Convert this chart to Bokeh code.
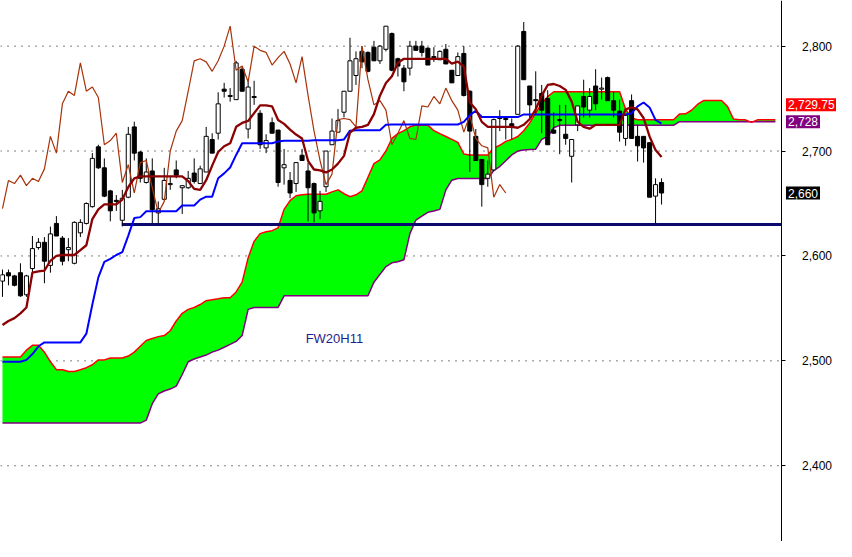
from bokeh.plotting import figure
from bokeh.models import Range1d, NumeralTickFormatter, FixedTicker, Label
from bokeh.embed import file_html
from bokeh.resources import INLINE

# ---- candle data (index 0..110) ----
opens = [2576, 2584, 2581, 2584, 2563, 2588, 2608, 2613, 2591, 2631,
         2617, 2606, 2593, 2622, 2631, 2647, 2704, 2684, 2662, 2653,
         2634, 2656, 2723, 2699, 2670, 2681, 2641, 2654, 2668, 2682,
         2665, 2665, 2679, 2669, 2680, 2711, 2717, 2759, 2752, 2749,
         2778, 2721, 2752, 2736, 2703, 2727, 2720, 2684, 2672, 2669,
         2696, 2681, 2669, 2643, 2666, 2706, 2718, 2737, 2757, 2772,
         2795, 2794, 2799, 2786, 2797, 2812, 2788, 2779, 2779, 2800,
         2800, 2798, 2790, 2787, 2797, 2777, 2772, 2793, 2757, 2714,
         2692, 2674, 2682, 2732, 2731, 2726, 2735, 2814, 2762, 2749,
         2755, 2750, 2720, 2730, 2716, 2695, 2725, 2752, 2739, 2762,
         2759, 2770, 2748, 2738, 2712, 2748, 2714, 2714, 2708, 2657,
         2670]
highs = [2587, 2587, 2582, 2593, 2582, 2619, 2617, 2618, 2628, 2638,
         2619, 2617, 2633, 2635, 2651, 2698, 2706, 2693, 2663, 2658,
         2663, 2723, 2728, 2700, 2693, 2693, 2652, 2684, 2676, 2691,
         2667, 2681, 2693, 2686, 2723, 2717, 2756, 2765, 2760, 2786,
         2781, 2768, 2767, 2739, 2716, 2732, 2720, 2702, 2680, 2689,
         2702, 2689, 2670, 2662, 2700, 2731, 2740, 2757, 2808, 2795,
         2800, 2795, 2805, 2801, 2819, 2813, 2789, 2782, 2805, 2805,
         2805, 2799, 2799, 2796, 2802, 2777, 2794, 2800, 2758, 2721,
         2692, 2691, 2731, 2739, 2733, 2731, 2801, 2823, 2762, 2776,
         2763, 2758, 2737, 2744, 2744, 2711, 2743, 2768, 2760, 2778,
         2770, 2771, 2756, 2749, 2734, 2754, 2725, 2714, 2708, 2674,
         2674]
lows = [2561, 2572, 2571, 2561, 2561, 2581, 2606, 2574, 2584, 2619,
        2591, 2595, 2592, 2618, 2630, 2646, 2683, 2656, 2633, 2643,
        2629, 2655, 2691, 2670, 2669, 2631, 2631, 2653, 2663, 2674,
        2640, 2664, 2669, 2669, 2680, 2698, 2711, 2751, 2747, 2749,
        2757, 2712, 2744, 2702, 2698, 2717, 2666, 2668, 2655, 2661,
        2691, 2633, 2632, 2635, 2661, 2706, 2718, 2732, 2757, 2763,
        2779, 2775, 2786, 2783, 2795, 2776, 2771, 2757, 2772, 2796,
        2790, 2782, 2785, 2787, 2783, 2765, 2772, 2752, 2680, 2691,
        2647, 2666, 2681, 2719, 2711, 2711, 2735, 2768, 2731, 2736,
        2717, 2706, 2717, 2697, 2706, 2670, 2719, 2732, 2732, 2739,
        2749, 2748, 2732, 2709, 2705, 2712, 2690, 2689, 2656, 2631,
        2649]
closes = [2582, 2581, 2572, 2562, 2581, 2607, 2613, 2595, 2621, 2619,
          2595, 2608, 2632, 2632, 2650, 2693, 2684, 2657, 2643, 2652,
          2655, 2716, 2698, 2674, 2680, 2644, 2645, 2672, 2669, 2677,
          2667, 2674, 2671, 2683, 2714, 2698, 2745, 2757, 2753, 2784,
          2757, 2761, 2751, 2706, 2710, 2717, 2670, 2687, 2660, 2689,
          2691, 2665, 2641, 2652, 2700, 2719, 2729, 2757, 2786, 2788,
          2785, 2776, 2786, 2800, 2819, 2777, 2781, 2766, 2800, 2796,
          2794, 2782, 2789, 2795, 2783, 2765, 2790, 2753, 2719, 2691,
          2668, 2678, 2730, 2731, 2730, 2723, 2800, 2768, 2744, 2748,
          2739, 2706, 2717, 2729, 2712, 2711, 2743, 2742, 2752, 2745,
          2760, 2748, 2739, 2718, 2734, 2712, 2705, 2703, 2656, 2668,
          2660]

# ---- Ichimoku lines ----
tenkan = [2534.2, 2538.0, 2540.7, 2545.3, 2550.9, 2584.2, 2585.2, 2586.1, 2595.4, 2600.0,
          2600.9, 2600.9, 2600.9, 2605.5, 2610.2, 2635.2, 2644.4, 2649.1, 2649.1, 2649.1,
          2653.7, 2665.7, 2674.0, 2675.9, 2675.9, 2675.9, 2675.9, 2675.9, 2675.9, 2675.9,
          2675.9, 2671.3, 2663.9, 2663.0, 2672.2, 2686.1, 2699.1, 2704.6, 2707.4, 2723.1,
          2726.8, 2728.7, 2736.1, 2743.5, 2743.5, 2742.6, 2729.6, 2725.9, 2720.4, 2715.7,
          2712.0, 2690.7, 2682.4, 2681.5, 2679.6, 2682.4, 2688.0, 2695.4, 2717.6, 2722.2,
          2723.1, 2725.0, 2735.2, 2752.8, 2764.8, 2771.3, 2784.2, 2787.9, 2787.9, 2787.9,
          2787.9, 2787.9, 2787.9, 2787.9, 2787.9, 2783.3, 2785.2, 2780.5, 2746.3, 2739.8,
          2727.8, 2723.1, 2723.1, 2723.1, 2723.1, 2723.1, 2722.2, 2725.0, 2730.5, 2739.8,
          2752.8, 2763.0, 2763.9, 2762.0, 2758.3, 2747.2, 2727.8, 2723.1, 2721.3, 2725.0,
          2725.0, 2725.0, 2725.0, 2725.0, 2739.8, 2741.6, 2739.8, 2731.5, 2713.9, 2700.9,
          2694.4]
kijun = [2499.1, 2499.1, 2499.1, 2499.1, 2500.9, 2506.5, 2513.9, 2517.6, 2517.6, 2517.6,
         2517.6, 2517.6, 2517.6, 2517.6, 2525.9, 2553.7, 2579.6, 2594.4, 2597.2, 2600.9,
         2603.7, 2619.4, 2636.1, 2637.0, 2642.6, 2642.6, 2642.6, 2642.6, 2642.6, 2642.6,
         2648.1, 2648.1, 2648.1, 2653.7, 2656.5, 2656.5, 2674.1, 2678.7, 2684.3, 2696.3,
         2707.4, 2707.4, 2707.4, 2707.4, 2707.4, 2707.4, 2709.2, 2709.7, 2709.7, 2709.7,
         2709.7, 2709.7, 2710.2, 2710.2, 2710.2, 2710.2, 2710.2, 2711.1, 2719.4, 2719.9,
         2719.9, 2719.9, 2719.9, 2719.9, 2725.0, 2725.3, 2725.3, 2725.3, 2725.3, 2725.3,
         2725.3, 2725.3, 2725.3, 2725.3, 2725.3, 2725.3, 2725.3, 2727.8, 2734.2, 2738.4,
         2732.4, 2732.4, 2732.4, 2732.4, 2732.4, 2732.4, 2732.4, 2734.9, 2734.9, 2734.9,
         2734.9, 2734.9, 2734.9, 2734.9, 2734.9, 2734.9, 2734.9, 2734.9, 2734.9, 2734.9,
         2734.9, 2734.9, 2734.9, 2734.9, 2734.9, 2736.1, 2742.6, 2746.3, 2741.6, 2729.6,
         2726.2]
senkou_a = [2503.7, 2503.7, 2503.7, 2503.7, 2510.2, 2514.8, 2514.8, 2508.3, 2499.1, 2491.6,
            2491.6, 2489.8, 2489.8, 2491.6, 2493.5, 2496.3, 2500.9, 2500.9, 2502.8, 2502.8,
            2502.8, 2504.6, 2508.3, 2513.9, 2519.4, 2521.3, 2523.1, 2524.1, 2528.7, 2538.0,
            2545.3, 2549.1, 2550.9, 2553.7, 2557.4, 2558.3, 2559.2, 2560.2, 2560.2, 2565.7,
            2575.0, 2598.1, 2613.9, 2621.3, 2623.1, 2624.1, 2626.8, 2644.4, 2652.8, 2657.4,
            2658.3, 2658.8, 2658.8, 2658.8, 2658.8, 2661.1, 2663.0, 2659.3, 2656.5, 2658.3,
            2662.0, 2675.0, 2688.0, 2691.6, 2700.0, 2712.0, 2716.6, 2719.4, 2723.1, 2724.7,
            2724.7, 2724.7, 2719.4, 2716.6, 2713.9, 2711.1, 2708.3, 2697.2, 2696.3, 2696.3,
            2696.3, 2696.3, 2702.8, 2705.5, 2709.2, 2711.1, 2713.9, 2719.4, 2726.8, 2736.1,
            2745.4, 2751.8, 2756.5, 2756.5, 2756.5, 2756.5, 2756.5, 2756.5, 2756.5, 2756.5,
            2756.5, 2756.5, 2756.5, 2756.5, 2739.8, 2731.5, 2729.75, 2729.75, 2729.75, 2729.75,
            2729.75, 2729.75, 2729.75, 2735.2, 2735.5, 2738.9, 2744.4, 2748.1, 2748.1, 2748.1,
            2748.1, 2742.6, 2730.5, 2729.75, 2729.75, 2727.3, 2729.75, 2729.75, 2729.75, 2729.75]
senkou_b = [2440.7, 2440.7, 2440.7, 2440.7, 2440.7, 2440.7, 2440.7, 2440.7, 2440.7, 2440.7,
            2440.7, 2440.7, 2440.7, 2440.7, 2440.7, 2440.7, 2440.7, 2440.7, 2440.7, 2440.7,
            2440.7, 2440.7, 2440.7, 2440.7, 2443.5, 2459.2, 2468.5, 2471.3, 2473.1, 2475.9,
            2487.0, 2499.1, 2501.8, 2503.7, 2505.5, 2508.3, 2510.2, 2513.0, 2515.7, 2518.5,
            2524.1, 2549.1, 2550.9, 2550.9, 2550.9, 2550.9, 2550.9, 2562.0, 2562.0, 2562.0,
            2562.0, 2562.0, 2562.0, 2562.0, 2562.0, 2562.0, 2562.0, 2562.0, 2562.0, 2562.0,
            2562.0, 2562.0, 2575.0, 2582.4, 2589.8, 2593.5, 2594.4, 2596.3, 2621.3, 2634.2,
            2637.9, 2641.6, 2642.9, 2644.4, 2663.0, 2672.2, 2673.8, 2673.8, 2673.8, 2673.8,
            2673.8, 2673.8, 2681.5, 2685.2, 2690.7, 2696.3, 2700.0, 2700.9, 2701.4, 2701.8,
            2711.1, 2713.9, 2722.2, 2724.5, 2724.5, 2724.5, 2724.5, 2724.5, 2724.5, 2724.5,
            2724.5, 2724.5, 2724.5, 2724.5, 2724.5, 2724.5, 2724.5, 2724.5, 2724.5, 2724.5,
            2724.5, 2724.5, 2724.5, 2728.0, 2728.0, 2728.0, 2728.0, 2728.0, 2728.0, 2728.0,
            2728.0, 2728.0, 2728.0, 2728.0, 2728.0, 2728.0, 2728.0, 2728.0, 2728.0, 2728.0]

chikou_shift = 26
support_level = 2630
support_start = 20
price_ticks = [2400, 2500, 2600, 2700, 2800]
last_close = closes[-1]
senkou_a_last = senkou_a[-1]
senkou_b_last = senkou_b[-1]
chart_title = "FW20H11"

# ---- derived index arrays ----
n = len(closes)
idx = list(range(n))
cloud_idx = list(range(len(senkou_a)))
body_top = [max(o, c) for o, c in zip(opens, closes)]
body_bot = [min(o, c) for o, c in zip(opens, closes)]
body_fill = ["white" if c >= o else "black" for o, c in zip(opens, closes)]
chikou_idx = idx[:n - chikou_shift]
chikou = closes[chikou_shift:]

X0, X_AXIS, X1 = -0.33, 130.1, 139.2
p = figure(width=836, height=541,
           x_range=Range1d(X0, X1), y_range=Range1d(2327.8, 2843.5),
           output_backend="svg", toolbar_location=None,
           x_axis_location=None, y_axis_location="right",
           min_border_left=0, min_border_top=0, min_border_bottom=0, min_border_right=0)
p.outline_line_color = None
p.background_fill_color = "white"
p.border_fill_color = "white"
p.xgrid.visible = False
p.ygrid.visible = False

ax = p.yaxis[0]
ax.fixed_location = X_AXIS
ax.ticker = FixedTicker(ticks=price_ticks)
ax.formatter = NumeralTickFormatter(format="0,0")
ax.major_tick_out = 4
ax.major_tick_in = 0
ax.minor_tick_out = 0
ax.minor_tick_in = 0
ax.axis_label_standoff = 0
ax.major_label_standoff = 16
ax.major_label_text_align = "left"
ax.major_label_text_font = "Liberation Sans"
ax.major_label_text_font_size = "12px"
ax.major_label_text_color = "black"
ax.axis_line_color = "black"
ax.major_tick_line_color = "black"

# dotted price grid, ending at the price axis
p.segment(x0=[X0] * len(price_ticks), y0=price_ticks, x1=[X_AXIS] * len(price_ticks), y1=price_ticks,
          line_color="black", line_width=1, line_dash="1 6", level="underlay")

# cloud
p.varea(x=cloud_idx, y1=senkou_b, y2=senkou_a, fill_color="#00FF00")
p.line(cloud_idx, senkou_b, line_color="#800080", line_width=1.5)
p.line(cloud_idx, senkou_a, line_color="#FF0000", line_width=1.5)

# support line
p.segment(x0=[support_start], y0=[support_level], x1=[X_AXIS], y1=[support_level],
          line_color="#0A0A6E", line_width=3)
p.segment(x0=[support_start], y0=[support_level - 2], x1=[support_start], y1=[support_level + 2],
          line_color="#0A0A6E", line_width=1)

# candles
p.segment(x0=idx, y0=lows, x1=idx, y1=highs, line_color="black", line_width=1)
p.vbar(x=idx, width=0.68, top=body_top, bottom=body_bot,
       fill_color=body_fill, line_color="black", line_width=1)

# indicator lines
p.line(chikou_idx, chikou, line_color="#A8320A", line_width=1.2)
p.line(idx, kijun, line_color="#0000FF", line_width=2)
p.line(idx, tenkan, line_color="#8B0000", line_width=2.3)

# value boxes on the price axis
def value_box(val, txt, bg, yoff):
    return Label(x=X_AXIS, y=val, x_offset=4, y_offset=yoff, text=txt,
                 text_font="Liberation Sans", text_font_size="12px", text_color="white",
                 text_align="left", text_baseline="middle",
                 background_fill_color=bg, padding=2)

p.add_layout(value_box(senkou_a_last, f"{senkou_a_last:,.2f}", "#FF0000", 15))
p.add_layout(value_box(senkou_b_last, f"{senkou_b_last:,.0f}", "#800080", 0))
p.add_layout(value_box(last_close, f"{last_close:,.0f}", "black", 0))

p.add_layout(Label(x=50.6, y=2521, text=chart_title, text_font="Liberation Sans",
                   text_font_size="13px", text_color="#1E1E8C",
                   text_align="left", text_baseline="middle"))

open("out.html", "w").write(file_html(p, INLINE))
